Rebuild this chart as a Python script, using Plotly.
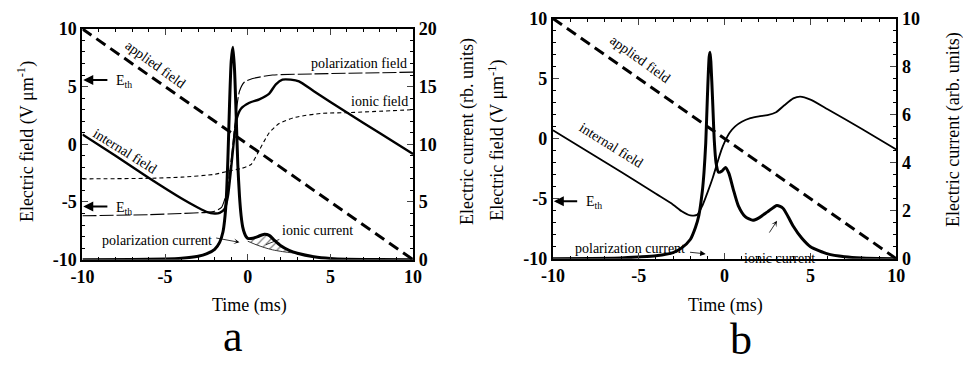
import plotly.graph_objects as go

W, H = 963, 368

# ---------------- Panel a data (time in ms) ----------------
applied_a_t = [-10, 10]
applied_a_v = [10, -10]

internal_a_t = [-10, -8, -6, -4, -3, -2.5, -2, -1.7, -1.4, -1.2, -1.0, -0.8, -0.65, -0.4, 0.1, 0.7, 1.3, 1.7, 2.1, 2.6, 3.1, 4, 6, 8, 10]
internal_a_v = [0.85, -1.0, -2.9, -4.7, -5.5, -5.85, -6.0, -5.95, -5.6, -4.5, -2.0, 0.8, 2.3, 3.1, 3.6, 3.9, 4.4, 5.2, 5.6, 5.6, 5.45, 4.6, 2.75, 0.95, -0.85]

polar_a_t = [-10, -6, -4, -2.5, -2, -1.6, -1.3, -1.1, -0.9, -0.7, -0.5, -0.2, 0.3, 1.5, 4, 10]
polar_a_v = [-6.2, -6.1, -6.0, -5.9, -5.8, -5.5, -4.3, -2.5, 0.0, 2.8, 4.6, 5.4, 5.7, 6.0, 6.1, 6.25]

ionic_a_t = [-10, -6, -4, -2, -1.1, -0.4, 0.2, 0.7, 1.3, 1.9, 2.9, 4.5, 6.2, 10]
ionic_a_v = [-3.0, -2.95, -2.85, -2.6, -2.3, -2.1, -1.75, -0.5, 1.0, 1.8, 2.35, 2.68, 2.75, 3.0]

current_a_t = [-10, -7, -5, -4, -3, -2.5, -2, -1.7, -1.5, -1.4, -1.3, -1.2, -1.1, -1.0, -0.9, -0.8, -0.7, -0.6, -0.5, -0.4, -0.3, -0.2, -0.1, 0, 0.3, 0.6, 1.0, 1.3, 1.6, 2.0, 2.5, 3.0, 4.0, 5.0, 6.0, 8.0, 10]
current_a_v = [0, 0.01, 0.05, 0.12, 0.3, 0.5, 0.9, 1.5, 2.4, 3.4, 5.2, 8.8, 13.5, 17.2, 18.4, 16.5, 12.5, 8.2, 5.5, 3.8, 2.8, 2.3, 2.0, 1.85, 1.85, 2.0, 2.2, 2.1, 1.7, 1.2, 0.8, 0.55, 0.25, 0.1, 0.04, 0.01, 0]

hatch_t = [0, 0.5, 1.0, 1.5, 2.0, 2.5, 2.9]
hatch_top = [1.85, 1.95, 2.2, 1.85, 1.2, 0.8, 0.6]
hatch_bottom = [1.6, 1.3, 1.05, 0.85, 0.72, 0.62, 0.58]

# ---------------- Panel b data ----------------
applied_b_t = [-10, 10]
applied_b_v = [10, -10]

internal_b_t = [-10, -8, -6, -4, -3, -2.5, -2, -1.6, -1.3, -1.0, -0.7, -0.4, -0.2, 0, 0.3, 0.6, 1.0, 1.5, 2.0, 2.5, 3.0, 3.5, 4.0, 4.4, 5.0, 6.0, 8.0, 10]
internal_b_v = [0.7, -1.05, -2.8, -4.6, -5.5, -6.05, -6.4, -6.35, -5.6, -4.5, -3.3, -1.9, -1.0, -0.3, 0.5, 1.0, 1.4, 1.7, 1.85, 1.95, 2.2, 2.8, 3.35, 3.5, 3.25, 2.45, 0.8, -0.9]

current_b_t = [-10, -6, -5, -4, -3, -2.5, -2, -1.7, -1.5, -1.3, -1.2, -1.1, -1.0, -0.9, -0.85, -0.8, -0.7, -0.6, -0.5, -0.35, -0.15, 0.05, 0.25, 0.5, 0.8, 1.2, 1.65, 2.0, 2.5, 3.05, 3.4, 3.7, 4.0, 4.5, 5.0, 6.0, 7.0, 8.0, 10]
current_b_v = [0, 0.03, 0.07, 0.12, 0.25, 0.45, 0.8, 1.3, 1.8, 2.8, 3.6, 4.8, 6.8, 8.4, 8.6, 8.2, 6.6, 4.9, 4.0, 3.6, 3.65, 3.8, 3.55, 2.9, 2.2, 1.75, 1.6, 1.7, 1.95, 2.22, 2.1, 1.75, 1.35, 0.85, 0.5, 0.2, 0.08, 0.03, 0]

x_ticks = [-10, -5, 0, 5, 10]
x_tick_text = ["-10", "-5", "0", "5", "10"]
field_ticks = [-10, -5, 0, 5, 10]
field_tick_text = ["-10", "-5", "0", "5", "10"]
current_a_ticks = [0, 5, 10, 15, 20]
current_b_ticks = [0, 2, 4, 6, 8, 10]

FONT = "Liberation Serif"


def px(x):
    return x / W


def py(y):
    return 1 - y / H


fig = go.Figure()

# ---- panel a traces ----
fig.add_trace(go.Scatter(x=polar_a_t, y=polar_a_v, xaxis="x", yaxis="y", mode="lines",
                         line=dict(color="black", width=1.1, dash="14px,3px", shape="spline", smoothing=0.6)))
fig.add_trace(go.Scatter(x=ionic_a_t, y=ionic_a_v, xaxis="x", yaxis="y", mode="lines",
                         line=dict(color="black", width=1.1, dash="4px,3px", shape="spline", smoothing=0.6)))
fig.add_trace(go.Scatter(x=applied_a_t, y=applied_a_v, xaxis="x", yaxis="y", mode="lines",
                         line=dict(color="black", width=3, dash="11px,6px")))
fig.add_trace(go.Scatter(x=internal_a_t, y=internal_a_v, xaxis="x", yaxis="y", mode="lines",
                         line=dict(color="black", width=2.4, shape="spline", smoothing=0.6)))
fig.add_trace(go.Scatter(x=hatch_t + hatch_t[::-1], y=hatch_top + hatch_bottom[::-1], xaxis="x", yaxis="y2",
                         mode="lines", fill="toself", fillcolor="rgba(255,255,255,0)",
                         fillpattern=dict(shape="/", fgcolor="black", bgcolor="white", size=6, solidity=0.2),
                         line=dict(color="black", width=0.8, shape="spline", smoothing=0.6)))
fig.add_trace(go.Scatter(x=current_a_t, y=current_a_v, xaxis="x", yaxis="y2", mode="lines",
                         line=dict(color="black", width=3, shape="spline", smoothing=0.6)))

# ---- panel b traces ----
fig.add_trace(go.Scatter(x=applied_b_t, y=applied_b_v, xaxis="x2", yaxis="y3", mode="lines",
                         line=dict(color="black", width=3, dash="11px,6px")))
fig.add_trace(go.Scatter(x=internal_b_t, y=internal_b_v, xaxis="x2", yaxis="y3", mode="lines",
                         line=dict(color="black", width=1.8, shape="spline", smoothing=0.6)))
fig.add_trace(go.Scatter(x=current_b_t, y=current_b_v, xaxis="x2", yaxis="y4", mode="lines",
                         line=dict(color="black", width=3, shape="spline", smoothing=0.6)))

tickfont = dict(family=FONT, size=18, color="black", weight="bold")
common_x = dict(range=[-10, 10], tickvals=x_ticks, ticktext=x_tick_text, ticks="inside", ticklen=6, tickwidth=1.2,
                showline=True, linewidth=2, linecolor="black", mirror="ticks",
                showgrid=False, zeroline=False, tickfont=tickfont,
                minor=dict(ticks="inside", ticklen=3, dtick=1, tickcolor="black"))
common_yl = dict(range=[-10, 10], tickvals=field_ticks, ticktext=field_tick_text, ticks="inside", ticklen=6, tickwidth=1.2,
                 showline=True, linewidth=2, linecolor="black", mirror=True,
                 showgrid=False, zeroline=False, tickfont=tickfont,
                 minor=dict(ticks="inside", ticklen=3, dtick=1, tickcolor="black"))

fig.update_layout(
    width=W, height=H, margin=dict(l=0, r=0, t=0, b=0),
    paper_bgcolor="white", plot_bgcolor="rgba(0,0,0,0)", showlegend=False,
    xaxis=dict(domain=[px(72), px(410)], anchor="y", **common_x),
    yaxis=dict(domain=[py(264), py(20)], anchor="x", **common_yl),
    yaxis2=dict(range=[0, 20], tickvals=current_a_ticks, overlaying="y", side="right", anchor="x",
                ticks="inside", ticklen=6, tickwidth=1.2, showline=True, linewidth=2, linecolor="black",
                showgrid=False, zeroline=False, tickfont=tickfont,
                minor=dict(ticks="inside", ticklen=3, dtick=1, tickcolor="black")),
    xaxis2=dict(domain=[px(553), px(904)], anchor="y3", **common_x),
    yaxis3=dict(domain=[py(263), py(9)], anchor="x2", **common_yl),
    yaxis4=dict(range=[0, 10], tickvals=current_b_ticks, overlaying="y3", side="right", anchor="x2",
                ticks="inside", ticklen=6, tickwidth=1.2, showline=True, linewidth=2, linecolor="black",
                showgrid=False, zeroline=False, tickfont=tickfont,
                minor=dict(ticks="inside", ticklen=3, dtick=0.5, tickcolor="black")),
)

ann = []
tf = dict(family=FONT, size=14, color="black")
titlef = dict(family=FONT, size=18, color="black")


def label(text, x, y, xref, yref, angle=0, font=tf, **kw):
    ann.append(dict(text=text, x=x, y=y, xref=xref, yref=yref, showarrow=False, textangle=angle,
                    font=font, xanchor="center", yanchor="middle", **kw))


def arrow(x, y, ax, ay, xref, yref, head=2, width=2, size=1.0):
    ann.append(dict(text="", x=x, y=y, ax=ax, ay=ay, xref=xref, yref=yref, axref=xref, ayref=yref,
                    showarrow=True, arrowhead=head, arrowwidth=width, arrowsize=size, arrowcolor="black"))


# panel a labels
label("applied field", -5.6, 6.9, "x", "y", angle=36)
label("internal field", -7.4, -0.6, "x", "y", angle=32)
label("polarization field", 6.75, 6.97, "x", "y")
label("ionic field", 7.95, 3.7, "x", "y")
label("E<sub>th</sub>", -7.5, 5.45, "x", "y")
arrow(-9.95, 5.57, -8.4, 5.57, "x", "y")
label("E<sub>th</sub>", -7.5, -5.55, "x", "y")
arrow(-9.95, -5.4, -8.4, -5.4, "x", "y")
label("polarization current", -5.5, -8.36, "x", "y")
arrow(-0.5, -8.5, -2.0, -8.1, "x", "y", head=3, width=0.8, size=1.2)
label("ionic current", 4.2, -7.46, "x", "y")
arrow(1.1, -8.7, 2.0, -8.2, "x", "y", head=0, width=0.8)

# panel b labels
label("applied field", -4.9, 6.6, "x2", "y3", angle=36)
label("internal field", -6.6, -0.6, "x2", "y3", angle=32)
label("E<sub>th</sub>", -7.6, -5.35, "x2", "y3")
arrow(-9.95, -5.22, -8.5, -5.22, "x2", "y3")
label("polarization current", -5.5, -9.13, "x2", "y3")
arrow(-1.1, -9.6, -2.1, -9.45, "x2", "y3", head=2, width=0.8, size=1.4)
label("ionic current", 3.2, -9.95, "x2", "y3")
arrow(3.05, -6.85, 2.55, -7.95, "x2", "y3", head=3, width=0.8, size=1.2)

# axis titles
label("Electric field (V μm<sup>-1</sup>)", px(15), py(139), "paper", "paper", angle=-90, font=titlef)
label("Electric current (rb. units)", px(465), py(128), "paper", "paper", angle=-90, font=titlef)
label("Time (ms)", px(243), py(313), "paper", "paper", font=titlef)
label("Electric field (V μm<sup>-1</sup>)", px(495), py(138), "paper", "paper", angle=-90, font=titlef)
label("Electric current (arb. units)", px(962), py(127), "paper", "paper", angle=-90, font=titlef)
label("Time (ms)", px(729), py(313), "paper", "paper", font=titlef)

# panel letters
bigf = dict(family=FONT, size=44, color="black")
label("a", px(226), py(345), "paper", "paper", font=bigf)
label("b", px(745), py(348), "paper", "paper", font=bigf)

fig.update_layout(annotations=ann)
fig.write_html("out.html")
